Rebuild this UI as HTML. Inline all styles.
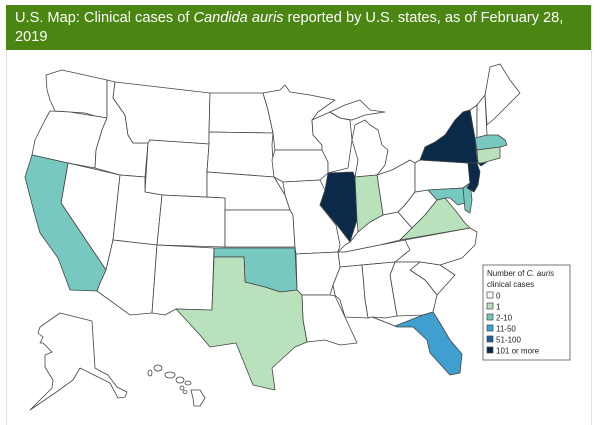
<!DOCTYPE html>
<html><head><meta charset="utf-8"><style>
html,body{margin:0;padding:0;background:#fff;}
body{width:600px;height:416px;position:relative;overflow:hidden;font-family:"Liberation Sans",sans-serif;}
.panel{position:absolute;left:6px;top:5px;width:584px;height:420px;border-left:1px solid #e2e2e2;border-right:1px solid #e2e2e2;}
.hdr{position:absolute;left:6px;top:5px;height:45px;background:#4b8512;color:#fff;font-size:14.6px;line-height:19px;padding:4px 0 0 9px;box-sizing:border-box;width:585px;}
.hdr i{font-style:italic;}
svg{position:absolute;left:0;top:0;}
.s{stroke:#444;stroke-width:0.8;stroke-linejoin:round;}
</style></head><body>
<div class="panel"></div>
<div class="hdr">U.S. Map: Clinical cases of <i>Candida auris</i> reported by U.S. states, as of February 28,<br>2019</div>
<svg width="600" height="416" viewBox="0 0 600 416">
<g class="s" fill="#fff">
<polygon points="46,75 62,70 107,80 107,118 95,116 85,113 70,112 55,111 50,100 47,90"/>
<polygon points="50,111 70,112 95,116 107,118 102,130 96,150 95,168 68,163 32,155 35,140 45,120"/>
<polygon points="68,163 120,175 113,240 106,270 61,203"/>
<polygon points="107,80 115,82 113,98 125,115 128,135 133,143 148,143 145,177 120,175 95,168 96,150 102,130 107,118"/>
<polygon points="115,82 210,93 209,132 209,144 150,140 148,143 133,143 128,135 125,115 113,98"/>
<polygon points="148,143 150,140 209,144 207,172 207,197 162,195 145,192"/>
<polygon points="210,93 263,93 268,110 273,133 209,132"/>
<polygon points="209,132 273,133 272,145 274,177 207,172 209,144"/>
<polygon points="207,172 274,177 285,195 290,210 225,210 225,198 207,197"/>
<polygon points="120,175 145,177 145,192 162,195 157,245 113,240"/>
<polygon points="162,195 225,198 225,247 157,245"/>
<polygon points="225,210 290,210 293,215 295,247 225,247"/>
<polygon points="113,240 157,245 152,313 130,315 97,291 100,283 106,270"/>
<polygon points="157,245 214,248 212,310 176,309 165,315 152,313"/>
<polygon points="263,93 280,90 285,85 290,92 310,95 335,100 318,112 312,120 313,135 322,145 322,150 275,150 273,133 268,110"/>
<polygon points="275,150 322,150 328,162 328,173 320,180 283,182 274,177 272,160"/>
<polygon points="283,182 320,180 325,190 320,205 336,225 340,245 338,252 296,254 295,247 293,215 290,210 285,195"/>
<polygon points="312,120 330,112 340,118 350,120 352,140 348,168 328,173 328,162 322,150 322,145 313,135"/>
<polygon points="330,112 345,105 360,100 370,110 385,112 365,115 352,120 340,118"/>
<polygon points="355,125 365,120 370,125 378,130 382,145 388,150 385,165 377,175 355,177 358,160 352,140"/>
<polygon points="377,175 392,170 410,160 415,163 415,192 405,205 398,212 383,215"/>
<polygon points="338,252 345,245 350,242 358,232 370,222 383,215 398,212 405,220 412,228 400,240 380,245 345,252"/>
<polygon points="338,252 345,252 380,245 405,240 412,240 410,250 395,262 362,265 340,267"/>
<polygon points="415,192 428,190 437,200 425,215 412,228 405,220 398,212 405,205"/>
<polygon points="415,163 420,160 468,163 470,183 463,188 428,190 415,192"/>
<polygon points="463,112 470,110 477,105 477,138 475,138"/>
<polygon points="477,105 485,95 487,135 477,138"/>
<polygon points="485,95 490,67 500,64 510,80 520,93 508,105 495,118 487,125"/>
<polygon points="405,240 470,228 477,232 475,245 462,258 440,265 420,262 395,262 410,250"/>
<polygon points="420,262 440,265 455,275 437,295 425,280 410,270"/>
<polygon points="395,262 420,262 410,270 425,280 437,295 433,312 423,315 397,316 395,305 390,275"/>
<polygon points="362,265 395,262 390,275 395,305 397,316 385,318 372,317 368,318 365,300"/>
<polygon points="340,267 362,265 365,300 368,318 345,317 340,300 335,295 333,285"/>
<polygon points="296,254 338,252 340,267 333,285 330,295 302,295 297,290"/>
<polygon points="302,295 330,295 335,296 345,317 357,343 340,345 325,340 307,342 303,320"/>
<polygon points="40,327 60,313 92,321 95,368 102,372 108,375 117,387 127,392 125,397 118,398 110,383 80,368 73,380 55,393 30,410 33,407 52,388 53,380 45,367 45,355 52,352 43,343 40,343 43,337 38,333"/>
<ellipse cx="150" cy="373" rx="2" ry="3"/>
<ellipse cx="158" cy="368" rx="4" ry="3"/>
<ellipse cx="170" cy="375" rx="5" ry="3"/>
<ellipse cx="180" cy="380" rx="4" ry="3"/>
<ellipse cx="188" cy="383" rx="3" ry="2"/>
<ellipse cx="182" cy="388" rx="2" ry="2"/>
<ellipse cx="185" cy="392" rx="2" ry="1.5"/>
<polygon points="191,390 200,390 205,398 200,406 194,406 193,398"/>
</g>
<g class="s">
<polygon fill="#76c8c0" points="32,155 68,163 61,203 106,270 100,283 97,291 70,290 58,258 40,233 34,212 25,177"/>
<polygon fill="#76c8c0" points="214,248 295,248 297,290 280,292 265,287 245,282 244,257 214,257"/>
<polygon fill="#b9e2bc" points="214,257 244,257 245,282 265,287 280,292 297,290 302,295 303,320 307,342 295,347 272,368 275,390 253,385 236,343 210,347 200,335 176,309 212,310"/>
<polygon fill="#0b2a4a" points="328,173 353,172 355,177 357,220 350,242 337,225 320,205 325,190"/>
<polygon fill="#b9e2bc" points="355,177 377,175 383,215 370,222 358,232 357,220"/>
<polygon fill="#b9e2bc" points="400,240 412,228 425,215 437,200 445,198 455,210 465,223 470,228"/>
<polygon fill="#76c8c0" points="428,190 463,188 465,203 458,205 450,198 445,198 437,200"/>
<polygon fill="#76c8c0" points="463,188 470,183 472,200 470,213 465,210"/>
<polygon fill="#0b2a4a" points="420,160 425,147 435,142 445,135 455,120 463,112 470,110 475,138 477,160 478,163 468,163"/>
<polygon fill="#0b2a4a" points="468,163 477,163 480,172 478,185 474,192 467,188 470,183"/>
<polygon fill="#0b2a4a" points="478,163 493,153 495,156 481,166"/>
<polygon fill="#76c8c0" points="475,138 487,135 498,135 505,140 507,145 500,147 477,150"/>
<polygon fill="#b9e2bc" points="477,150 500,147 500,158 482,163 478,163"/>
<polygon fill="#3f9fcf" points="372,317 395,326 423,315 433,312 437,318 450,340 462,354 460,373 450,375 430,353 427,340 413,327 397,327 385,322"/>
</g>
<rect x="483" y="265" width="87" height="95" fill="#fff" stroke="#555" stroke-width="0.8"/>
<g font-family="Liberation Sans, sans-serif" font-size="8" fill="#222">
<text x="487" y="276">Number of <tspan font-style="italic">C. auris</tspan></text>
<text x="487" y="287">clinical cases</text>
<g stroke="#444" stroke-width="0.7">
<rect x="487" y="292" width="6" height="6" fill="#fff"/>
<rect x="487" y="303" width="6" height="6" fill="#b9e2bc"/>
<rect x="487" y="314" width="6" height="6" fill="#76c8c0"/>
<rect x="487" y="325" width="6" height="6" fill="#3f9fcf"/>
<rect x="487" y="336" width="6" height="6" fill="#1f5fa0"/>
<rect x="487" y="347" width="6" height="6" fill="#0b2a4a"/>
</g>
<text x="496" y="298.5">0</text>
<text x="496" y="309.5">1</text>
<text x="496" y="320.5">2-10</text>
<text x="496" y="331.5">11-50</text>
<text x="496" y="342.5">51-100</text>
<text x="496" y="353.5">101 or more</text>
</g>
</svg>
</body></html>
